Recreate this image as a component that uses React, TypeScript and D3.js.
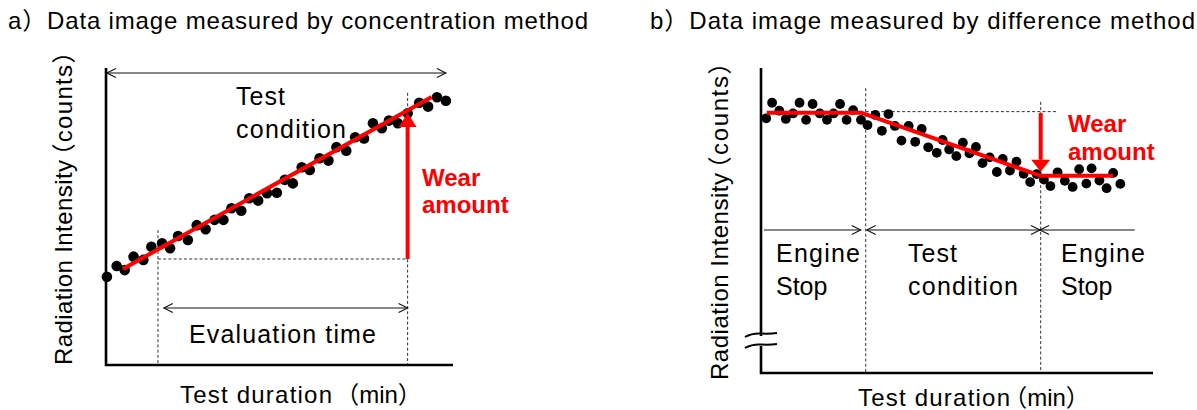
import React from "react";
import * as d3 from "d3";

// ---------- a) concentration method ----------
const A_TIME = [0.1, 1.2, 2.1, 3.1, 4.2, 5.1, 6.3, 7.2, 8.1, 9.2, 10.2, 11.2, 12.2, 13.2, 14.1, 15.2, 16.1, 17.1, 18.1, 19.2, 20.1, 21.0, 22.0, 22.9, 24.0, 25.0, 25.9, 27.0, 28.0, 29.0, 30.0, 31.0, 31.8, 32.8, 33.9, 35.2, 36.2, 37.2, 38.2];
const A_COUNTS = [30.2, 33.9, 32.5, 37.1, 36.0, 40.5, 41.7, 40.0, 44.2, 42.8, 47.9, 46.5, 49.7, 49.7, 53.7, 52.8, 57.1, 56.3, 58.8, 59.0, 63.4, 62.2, 67.7, 66.8, 70.8, 70.0, 74.6, 73.4, 78.0, 77.6, 82.8, 81.1, 83.7, 82.8, 86.2, 89.8, 88.5, 91.7, 90.5];
const A_FIT_TIME = [1.9, 36.6];
const A_FIT_COUNTS = [32.9, 91.8];
const A_EVAL = [5.84, 33.9]; // evaluation window start / end
const A_BASE_LEVEL = 36.3; // counts at start of evaluation
const A_WEAR_TOP = 86.3; // counts at end of evaluation
const A_GUIDE_TOPS = [46.2, 93.2];
const A_TEST_SPAN = [0.1, 38.2];
const A_TEST_LEVEL = 100;
const A_EVAL_ARROW = [6.5, 33.9];
const A_EVAL_LEVEL = 19.5;

// ---------- b) difference method ----------
const B_TIME = [0.8, 1.7, 2.8, 3.8, 4.9, 5.9, 6.9, 7.9, 9.0, 10.1, 11.1, 12.1, 13.1, 14.1, 15.3, 16.3, 17.5, 18.5, 19.5, 20.5, 21.5, 22.6, 23.6, 24.6, 25.6, 26.9, 27.8, 28.8, 29.9, 30.9, 31.9, 32.9, 33.9, 35.0, 36.1, 37.0, 38.1, 39.1, 40.2, 41.2, 42.2, 43.3, 44.3, 45.4, 46.5, 47.7, 48.7, 49.8, 50.6, 51.8, 52.9, 53.9, 55.0];
const B_COUNTS = [83.5, 88.6, 86.0, 83.3, 85.1, 88.6, 83.0, 88.2, 85.1, 83.0, 85.1, 88.2, 83.0, 86.2, 83.0, 81.3, 84.6, 79.4, 84.9, 81.0, 76.2, 81.0, 75.8, 80.0, 74.0, 72.2, 76.4, 73.3, 71.1, 75.5, 72.0, 74.1, 68.8, 70.7, 65.9, 70.2, 66.4, 69.3, 65.3, 62.6, 65.2, 63.4, 61.3, 65.8, 63.0, 61.0, 66.8, 62.1, 67.1, 63.1, 60.6, 65.6, 62.0];
const B_FIT_TIME = [0.87, 15.41, 42.71, 53.88];
const B_FIT_COUNTS = [85.3, 85.3, 64.7, 64.7];
const B_PHASES = [16.03, 42.81]; // engine stop -> test -> engine stop
const B_GUIDE_TOPS = [93.4, 88.9];
const B_REF_LEVEL = 85.7;
const B_REF_END = 45.46;
const B_WEAR = [85.2, 66.0];
const B_PHASE_LEVEL = 46.9;
const B_PHASE_ARROWS = [
  [0.46, 15.26],
  [16.18, 42.7],
  [42.7, 57.2],
];

const FONT = "'Liberation Sans', Arial, 'Noto Sans CJK JP', sans-serif";
const RED = "#ff0000";
const INK = "#000";

type Pt = [number, number];

// open chevron arrow head at `tip`, pointing away from `from`
function chevron(tip: Pt, from: Pt, len = 9, half = 4.5) {
  const dx = tip[0] - from[0];
  const dy = tip[1] - from[1];
  const d = Math.hypot(dx, dy) || 1;
  const ux = dx / d, uy = dy / d;
  const bx = tip[0] - ux * len, by = tip[1] - uy * len;
  const px = -uy * half, py = ux * half;
  return `M${bx + px},${by + py}L${tip[0]},${tip[1]}L${bx - px},${by - py}`;
}

function DimLine({ a, b, headA, headB }: { a: Pt; b: Pt; headA: boolean; headB: boolean }) {
  return (
    <g fill="none" stroke="#111" strokeWidth={1.1}>
      <line x1={a[0]} y1={a[1]} x2={b[0]} y2={b[1]} />
      {headA && <path d={chevron(a, b)} />}
      {headB && <path d={chevron(b, a)} />}
    </g>
  );
}

function RedArrow({ from, tip, headLen = 14, half = 9 }: { from: Pt; tip: Pt; headLen?: number; half?: number }) {
  const dir = Math.sign(tip[1] - from[1]);
  const base = tip[1] - dir * headLen;
  return (
    <g>
      <line x1={from[0]} y1={from[1]} x2={tip[0]} y2={base} stroke={RED} strokeWidth={4} />
      <path d={`M${tip[0] - half},${base}L${tip[0]},${tip[1]}L${tip[0] + half},${base}Z`} fill={RED} />
    </g>
  );
}

// axis title: words stretched to width, fullwidth bracket part after them
function AxisTitle({ transform, x, y, words, unit, wordsLen, gap, unitLen }: {
  transform?: string; x?: number; y?: number; words: string; unit: string; wordsLen: number; gap: number; unitLen?: number;
}) {
  return (
    <text transform={transform} x={x} y={y}>
      <tspan textLength={wordsLen} lengthAdjust="spacing">{words}</tspan>
      {unitLen ? (
        <tspan dx={gap} textLength={unitLen} lengthAdjust="spacing">{unit}</tspan>
      ) : (
        <tspan dx={gap}>{unit}</tspan>
      )}
    </text>
  );
}

const dash = { stroke: "#333", strokeWidth: 1, strokeDasharray: "3,2.2", fill: "none" };

function PanelA() {
  const x = d3.scaleLinear().domain([0, 39]).range([106, 453]);
  const y = d3.scaleLinear().domain([0, 100]).range([365, 73]);
  const fit = d3.line<number>().x((_, i) => x(A_FIT_TIME[i])).y((v) => y(v))(A_FIT_COUNTS) || "";
  const [e0, e1] = A_EVAL;
  return (
    <g>
      {/* guide lines */}
      <line x1={x(e0)} x2={x(e0)} y1={y(A_GUIDE_TOPS[0])} y2={y(0)} {...dash} />
      <line x1={x(e1)} x2={x(e1)} y1={y(A_GUIDE_TOPS[1])} y2={y(0)} {...dash} />
      <line x1={x(e0)} x2={x(e1)} y1={y(A_BASE_LEVEL)} y2={y(A_BASE_LEVEL)} {...dash} />
      {/* axes */}
      <line x1={106} x2={106} y1={68} y2={366} stroke={INK} strokeWidth={2.6} />
      <line x1={105} x2={453} y1={365} y2={365} stroke={INK} strokeWidth={2.6} />
      {/* measurements */}
      {A_TIME.map((t, i) => (
        <circle key={i} cx={x(t)} cy={y(A_COUNTS[i])} r={5.3} fill="#000" />
      ))}
      <path d={fit} stroke={RED} strokeWidth={4} fill="none" />
      <RedArrow from={[x(e1), y(A_BASE_LEVEL)]} tip={[x(e1), y(A_WEAR_TOP)]} />
      <DimLine a={[x(A_TEST_SPAN[0]), y(A_TEST_LEVEL)]} b={[x(A_TEST_SPAN[1]), y(A_TEST_LEVEL)]} headA headB />
      <DimLine a={[x(A_EVAL_ARROW[0]), y(A_EVAL_LEVEL)]} b={[x(A_EVAL_ARROW[1]), y(A_EVAL_LEVEL)]} headA headB />
      {/* text */}
      <g fontFamily={FONT} fontSize={25} fill={INK}>
        <text x={236} y={105} textLength={49} lengthAdjust="spacing">Test</text>
        <text x={236} y={138} textLength={110} lengthAdjust="spacing">condition</text>
        <text x={189} y={343} textLength={187} lengthAdjust="spacing">Evaluation time</text>
      </g>
      <g fontFamily={FONT} fontSize={24} fill={INK}>
        <AxisTitle x={180} y={403} words="Test duration" unit="（min）" wordsLen={152} gap={2} />
        <AxisTitle transform="translate(72,365) rotate(-90)" words="Radiation Intensity" unit="（counts）"
          wordsLen={205} gap={-8} unitLen={128} />
      </g>
      <g fontFamily={FONT} fontSize={24} fontWeight="bold" fill={RED}>
        <text x={422} y={186}>Wear</text>
        <text x={422} y={213}>amount</text>
      </g>
    </g>
  );
}

function PanelB() {
  const x = d3.scaleLinear().domain([0, 60]).range([761, 1153]);
  const y = d3.scaleLinear().domain([0, 100]).range([373, 68]);
  const fit = d3.line<number>().x((_, i) => x(B_FIT_TIME[i])).y((v) => y(v))(B_FIT_COUNTS) || "";
  const [p0, p1] = B_PHASES;
  const py = y(B_PHASE_LEVEL);
  return (
    <g>
      <line x1={x(p0)} x2={x(p0)} y1={y(B_GUIDE_TOPS[0])} y2={y(0)} {...dash} />
      <line x1={x(p1)} x2={x(p1)} y1={y(B_GUIDE_TOPS[1])} y2={y(0)} {...dash} />
      <line x1={x(p0)} x2={x(B_REF_END)} y1={y(B_REF_LEVEL)} y2={y(B_REF_LEVEL)} {...dash} />
      {/* axes with a break mark */}
      <line x1={761} x2={761} y1={68} y2={336} stroke={INK} strokeWidth={2.6} />
      <line x1={761} x2={761} y1={346} y2={374} stroke={INK} strokeWidth={2.6} />
      <path d="M745,337 Q752,333 761,333.5 T777,333" stroke={INK} strokeWidth={2} fill="none" />
      <path d="M745,348 Q752,344 761,344.5 T777,344" stroke={INK} strokeWidth={2} fill="none" />
      <line x1={760} x2={1153} y1={373} y2={373} stroke={INK} strokeWidth={2.6} />
      {B_TIME.map((t, i) => (
        <circle key={i} cx={x(t)} cy={y(B_COUNTS[i])} r={4.9} fill="#000" />
      ))}
      <path d={fit} stroke={RED} strokeWidth={4} fill="none" strokeLinejoin="round" />
      <RedArrow from={[x(p1), y(B_WEAR[0])]} tip={[x(p1), y(B_WEAR[1])]} headLen={12} half={9.5} />
      <DimLine a={[x(B_PHASE_ARROWS[0][0]), py]} b={[x(B_PHASE_ARROWS[0][1]), py]} headA={false} headB />
      <DimLine a={[x(B_PHASE_ARROWS[1][0]), py]} b={[x(B_PHASE_ARROWS[1][1]), py]} headA headB />
      <DimLine a={[x(B_PHASE_ARROWS[2][0]), py]} b={[x(B_PHASE_ARROWS[2][1]), py]} headA headB={false} />
      <g fontFamily={FONT} fontSize={25} fill={INK}>
        <text x={776} y={262} textLength={84} lengthAdjust="spacing">Engine</text>
        <text x={776} y={295}>Stop</text>
        <text x={908} y={262} textLength={49} lengthAdjust="spacing">Test</text>
        <text x={908} y={295} textLength={110} lengthAdjust="spacing">condition</text>
        <text x={1061} y={262} textLength={84} lengthAdjust="spacing">Engine</text>
        <text x={1061} y={295}>Stop</text>
      </g>
      <g fontFamily={FONT} fontSize={24} fill={INK}>
        <AxisTitle x={858} y={406} words="Test duration" unit="（min）" wordsLen={152} gap={-8} />
        <AxisTitle transform="translate(728,380) rotate(-90)" words="Radiation Intensity" unit="（counts）"
          wordsLen={207} gap={-8} unitLen={130} />
      </g>
      <g fontFamily={FONT} fontSize={24} fontWeight="bold" fill={RED}>
        <text x={1068} y={132}>Wear</text>
        <text x={1068} y={160}>amount</text>
      </g>
    </g>
  );
}

export default function App() {
  return (
    <svg
      width={1197}
      height={410}
      viewBox="0 0 1197 410"
      style={{ position: "absolute", left: 0, top: 0, background: "#fff" }}
    >
      <rect width={1197} height={410} fill="#fff" />
      <g fontFamily={FONT} fontSize={24} fill={INK}>
        <text x={8} y={29} textLength={580} lengthAdjust="spacing">a）Data image measured by concentration method</text>
        <text x={650} y={29} textLength={545} lengthAdjust="spacing">b）Data image measured by difference method</text>
      </g>
      <PanelA />
      <PanelB />
    </svg>
  );
}
